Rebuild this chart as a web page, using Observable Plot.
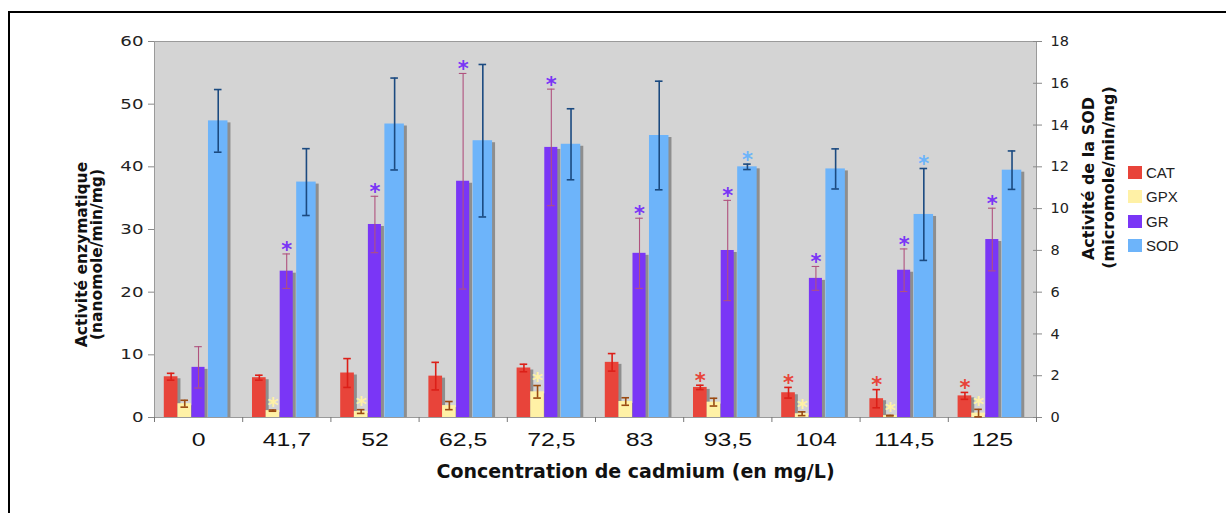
<!DOCTYPE html>
<html><head><meta charset="utf-8">
<script src="https://cdn.jsdelivr.net/npm/d3@7"></script>
<script src="https://cdn.jsdelivr.net/npm/@observablehq/plot@0.6"></script>
<style>
body{margin:0;background:#fff;}
#wrap{position:relative;width:1226px;height:513px;overflow:hidden;background:#fff;}
#border{position:absolute;left:8px;top:11px;width:1240px;height:520px;border-top:2px solid #000;border-left:2px solid #000;pointer-events:none;}
#legend{position:absolute;left:1128px;top:160px;font-family:"Liberation Sans",Arial,sans-serif;font-size:15px;color:#222;}
#legend .row{display:flex;align-items:center;height:24.5px;}
#legend .sw{width:14px;height:13px;margin-right:4px;}
</style></head><body><div id="wrap"><div id="border"></div><div id="legend"></div></div>
<script>
// ---- data ----
const categories = ["0","41,7","52","62,5","72,5","83","93,5","104","114,5","125"];
const seriesNames = ["CAT","GPX","GR","SOD"];
const cat    = [6.5, 6.35, 7.1, 6.6, 7.9, 8.8, 4.8, 3.95, 3.0, 3.45];
const catErr = [0.55, 0.4, 2.3, 2.2, 0.6, 1.4, 0.35, 0.85, 1.45, 0.55];
const gpx    = [2.2, 1.1, 0.95, 1.9, 4.1, 2.55, 2.45, 0.6, 0.3, 0.7];
const gpxErr = [0.55, 0.1, 0.3, 0.65, 1.0, 0.6, 0.62, 0.3, 0.05, 0.6];
const gr     = [8.0, 23.35, 30.8, 37.7, 43.1, 26.2, 26.65, 22.2, 23.5, 28.4];
const grErr  = [3.3, 2.75, 4.5, 17.2, 9.3, 5.6, 8.0, 1.9, 3.4, 5.0];
const sod    = [14.2, 11.27, 14.05, 13.25, 13.08, 13.5, 12.0, 11.9, 9.72, 11.84];
const sodErr = [1.5, 1.6, 2.2, 3.65, 1.7, 2.6, 0.13, 0.96, 2.2, 0.92];
const catStar = [0,0,0,0,0,0,1,1,1,1];
const gpxStar = [0,1,1,0,1,0,0,1,1,1];
const grStar  = [0,1,1,1,1,1,1,1,1,1];
const sodStar = [0,0,0,0,0,0,1,0,1,0];
const leftTicks = [0,10,20,30,40,50,60];
const rightTicks = [0,2,4,6,8,10,12,14,16,18];

// ---- styles / layout ----
const barColors = {CAT:"#e8443a", GPX:"#fff1a6", GR:"#7a36f6", SOD:"#6db4fa"};
const errColors = {CAT:"#dc1f18", GPX:"#9a4a12", GR:"#b0527e", SOD:"#1b4a80"};
const errWidth  = {CAT:1.6, GPX:1.6, GR:1.1, SOD:1.6};
const slots = {CAT:[0.111,0.266], GPX:[0.266,0.42], GR:[0.425,0.573], SOD:[0.612,0.833]};
const sodFactor = 60/18; // right axis (0-18) onto left axis (0-60)
const capHalf = 0.043;

const raw = {CAT:[cat,catErr,catStar], GPX:[gpx,gpxErr,gpxStar], GR:[gr,grErr,grStar], SOD:[sod,sodErr,sodStar]};
const rows = [];
for (const s of seriesNames) {
  const [vals, errs, stars] = raw[s];
  const f = s === "SOD" ? sodFactor : 1;
  vals.forEach((v, i) => {
    const x1 = i + slots[s][0], x2 = i + slots[s][1];
    rows.push({series:s, i, x1, x2, xc:(x1+x2)/2, v:v*f, lo:(v-errs[i])*f, hi:(v+errs[i])*f, star:stars[i]});
  });
}
const starRows = rows.filter(d => d.star);

const plot = Plot.plot({
  width:1226, height:513,
  marginLeft:154, marginRight:190, marginTop:41, marginBottom:96,
  x:{domain:[0,10]},
  y:{domain:[0,60]},
  style:{fontFamily:"DejaVu Sans", background:"transparent", overflow:"visible"},
  marks:[
    Plot.frame({fill:"#d4d4d4", stroke:"#9a9a9a"}),
    // shadows
    Plot.rectY(rows, {x1:"x1", x2:"x2", y1:0, y2:"v", fill:"#8e8e8e", dx:3, dy:2, insetBottom:2}),
    // bars
    Plot.rectY(rows, {x1:"x1", x2:"x2", y1:0, y2:"v", fill:d => barColors[d.series]}),
    // error bars
    Plot.ruleX(rows, {x:"xc", y1:"lo", y2:"hi", stroke:d => errColors[d.series], strokeWidth:d => errWidth[d.series]}),
    Plot.ruleY(rows, {y:"hi", x1:d => d.xc - capHalf, x2:d => d.xc + capHalf, stroke:d => errColors[d.series], strokeWidth:d => errWidth[d.series]}),
    Plot.ruleY(rows, {y:"lo", x1:d => d.xc - capHalf, x2:d => d.xc + capHalf, stroke:d => errColors[d.series], strokeWidth:d => errWidth[d.series]}),
    // significance stars
    Plot.text(starRows, {x:"xc", y:"hi", text:() => "*", fill:d => barColors[d.series], fontSize:21, fontWeight:"bold", dy:-4}),
    // axes
    Plot.axisY({ticks:leftTicks, tickSize:6, tickPadding:5, label:null, stroke:"#888", fill:"#222", fontSize:14}),
    Plot.axisY({anchor:"right", ticks:rightTicks.map(v => v*sodFactor), tickFormat:d => String(Math.round(d/sodFactor)),
                tickSize:9, dx:-4, tickPadding:9, label:null, stroke:"#888", fill:"#222", fontSize:14.5}),
    Plot.axisX({ticks:d3.range(0,11), tickSize:5, tickFormat:() => "", label:null, stroke:"#777"}),
    Plot.axisX({ticks:categories.map((c,i) => i+0.5), tickSize:0, tickPadding:16, tickFormat:d => categories[Math.floor(d)],
                label:null, fontSize:18, fontFamily:"Liberation Sans", fill:"#111"}),
    // axis titles
    Plot.text(["Concentration de cadmium (en mg/L)"], {frameAnchor:"bottom", textAnchor:"middle", dx:40, dy:60, fontSize:19, fontWeight:"bold", fill:"#111"}),
    Plot.text(["Activité enzymatique"], {frameAnchor:"left", textAnchor:"middle", dx:-72, dy:25, rotate:-90, fontSize:15.5, fontWeight:"bold", fill:"#111"}),
    Plot.text(["(nanomole/min/mg)"], {frameAnchor:"left", textAnchor:"middle", dx:-57, dy:25, rotate:-90, fontSize:15.5, fontWeight:"bold", fill:"#111"}),
    Plot.text(["Activité de la SOD"], {frameAnchor:"right", textAnchor:"middle", dx:52, dy:-51, rotate:-90, fontSize:16, fontWeight:"bold", fill:"#111"}),
    Plot.text(["(micromole/min/mg)"], {frameAnchor:"right", textAnchor:"middle", dx:72, dy:-52, rotate:-90, fontSize:16, fontWeight:"bold", fill:"#111"})
  ]
});
document.getElementById("wrap").prepend(plot);

// widen tick labels like the reference (horizontally stretched glyphs)
const svg = d3.select(plot);
const yLabelGroups = svg.selectAll("g[aria-label='y-axis tick label']").nodes();
if (yLabelGroups.length) d3.select(yLabelGroups[0]).selectAll("text").each(function(){
  const t = d3.select(this); t.attr("transform", (t.attr("transform")||"") + " scale(1.3,1)");
});
const xLabelGroups = svg.selectAll("g[aria-label='x-axis tick label']").nodes();
xLabelGroups.forEach(g => d3.select(g).selectAll("text").each(function(){
  const t = d3.select(this); t.attr("transform", (t.attr("transform")||"") + " scale(1.38,1)");
}));

// legend
const legend = d3.select("#legend");
seriesNames.forEach(s => {
  const r = legend.append("div").attr("class","row");
  r.append("div").attr("class","sw").style("background", barColors[s]);
  r.append("span").text(s);
});
</script>
</body></html>
